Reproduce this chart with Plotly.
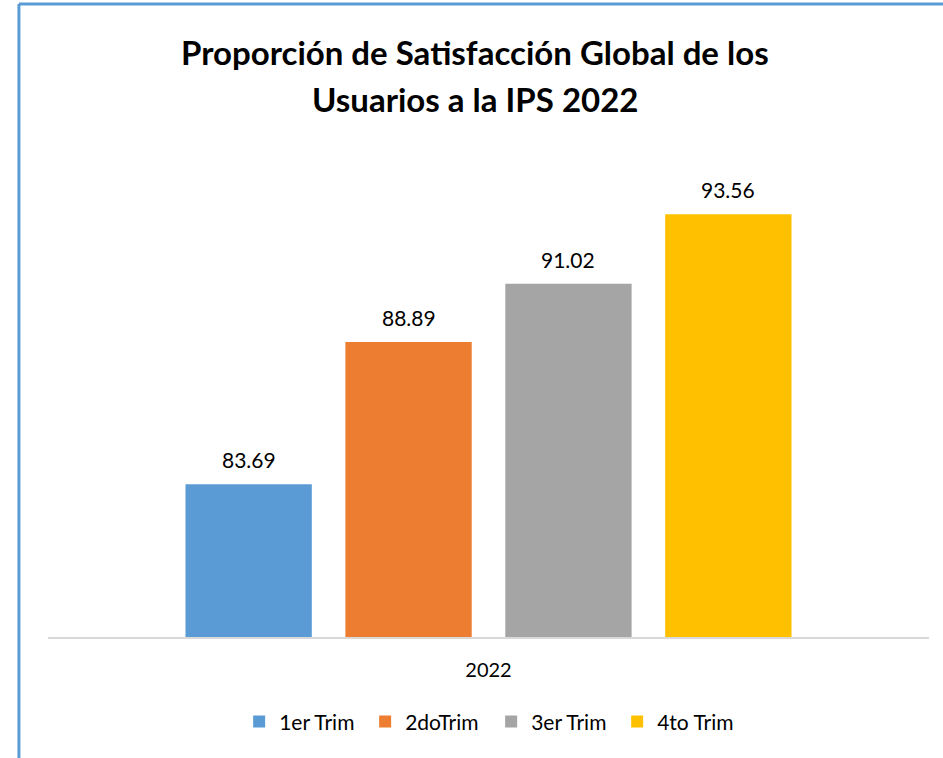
import plotly.graph_objects as go

categories = ["2022"]
series_names = ["1er Trim", "2doTrim", "3er Trim", "4to Trim"]
series_values = [83.69, 88.89, 91.02, 93.56]
colors = ["#5B9BD5", "#ED7D31", "#A5A5A5", "#FFC000"]

title_lines = ["Proporción de Satisfacción Global de los", "Usuarios a la IPS 2022"]

font = "Lato, Calibri, sans-serif"
bargap = 0.274
n = len(series_names)
slot = (1 - bargap) / n

fig = go.Figure()
for i, (name, val, col) in enumerate(zip(series_names, series_values, colors)):
    fig.add_trace(go.Bar(x=categories, y=[val], name=name, marker_color=col,
                         marker_line_width=0))
    # data label above each bar
    fig.add_annotation(x=(i - (n - 1) / 2) * slot, y=val, text=f"{val:.2f}",
                       showarrow=False, yanchor="bottom", yshift=10,
                       font=dict(size=21, color="#000000", family=font))

fig.update_layout(
    width=943, height=758,
    margin=dict(l=48, r=14, t=160, b=121),
    paper_bgcolor="white", plot_bgcolor="white",
    barmode="group", bargap=bargap, bargroupgap=0.21,
    font=dict(family=font, color="#000000"),
    showlegend=True,
    legend=dict(orientation="h", x=0.503, xanchor="center", y=-0.178, yanchor="middle",
                font=dict(size=21), itemwidth=30, traceorder="normal",
                entrywidth=81, entrywidthmode="pixels"),
    xaxis=dict(showline=True, linecolor="#D9D9D9", linewidth=2, ticks="outside",
               ticklen=14, tickcolor="white", tickfont=dict(size=20), range=[-0.5, 0.5]),
    yaxis=dict(range=[78.11, 95.54], visible=False),
)

# two title lines with Excel-like line spacing
fig.add_annotation(xref="paper", yref="paper", x=0.485, y=1 + (160 - 52) / 477,
                   text=f"<b>{title_lines[0]}</b>", showarrow=False,
                   font=dict(size=33, family=font), yanchor="middle")
fig.add_annotation(xref="paper", yref="paper", x=0.485, y=1 + (160 - 99) / 477,
                   text=f"<b>{title_lines[1]}</b>", showarrow=False,
                   font=dict(size=33, family=font), yanchor="middle")

# chart frame (top and left edges visible)
fig.add_shape(type="line", xref="paper", yref="paper", x0=-0.033, x1=1.05, y0=1.327, y1=1.327,
              line=dict(color="#5B9BD5", width=3))
fig.add_shape(type="line", xref="paper", yref="paper", x0=-0.033, x1=-0.033, y0=1.327, y1=-0.3,
              line=dict(color="#5B9BD5", width=3))

fig.write_html("out.html", config={"displayModeBar": False},
               post_script="document.body.style.margin='0';")
